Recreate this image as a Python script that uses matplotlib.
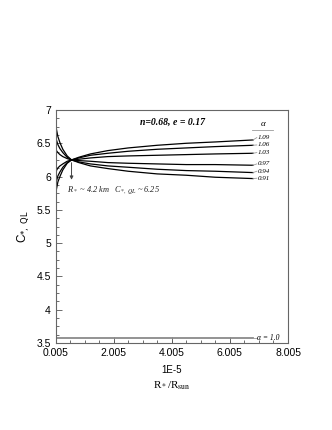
import matplotlib
matplotlib.use("Agg")
import matplotlib.pyplot as plt
from matplotlib.ticker import MultipleLocator, FixedLocator

# Data (x in units of 1E-5 R*/Rsun)
x = [0.005, 0.03, 0.08, 0.15, 0.25, 0.4, 0.55, 0.8, 1.2, 1.8, 2.5, 3.5, 4.5, 5.5, 6.8]
alphas = ["1.09", "1.06", "1.03", "0.97", "0.94", "0.91"]
c_109 = [5.70, 5.81, 5.92, 6.00, 6.10, 6.20, 6.25, 6.29, 6.34, 6.39, 6.43, 6.47, 6.50, 6.52, 6.55]
c_106 = [5.85, 5.93, 6.01, 6.07, 6.14, 6.21, 6.25, 6.28, 6.32, 6.35, 6.38, 6.41, 6.43, 6.45, 6.47]
c_103 = [6.05, 6.09, 6.13, 6.16, 6.19, 6.23, 6.25, 6.26, 6.28, 6.30, 6.31, 6.32, 6.33, 6.34, 6.35]
c_097 = [6.43, 6.39, 6.36, 6.33, 6.30, 6.27, 6.25, 6.24, 6.23, 6.21, 6.20, 6.19, 6.18, 6.18, 6.17]
c_094 = [6.63, 6.55, 6.48, 6.42, 6.36, 6.29, 6.25, 6.22, 6.19, 6.16, 6.14, 6.11, 6.09, 6.08, 6.06]
c_091 = [6.83, 6.71, 6.60, 6.51, 6.41, 6.31, 6.25, 6.21, 6.16, 6.12, 6.08, 6.04, 6.02, 5.99, 5.97]
series = [c_109, c_106, c_103, c_097, c_094, c_091]
label_y = [6.585, 6.475, 6.36, 6.19, 6.08, 5.975]

x_flat = [0.005, 6.8]
c_10 = [3.57, 3.57]

xticks = [0.005, 2.005, 4.005, 6.005, 8.005]
xticklabels = ["0.005", "2.005", "4.005", "6.005", "8.005"]
yticks = [3.5, 4, 4.5, 5, 5.5, 6, 6.5, 7]
yticklabels = ["3.5", "4", "4.5", "5", "5.5", "6", "6.5", "7"]

x_conv, y_conv = 0.55, 6.25

fig = plt.figure(figsize=(3.32, 4.30), dpi=100)
ax = fig.add_axes([0.1678, 0.2023, 0.6997, 0.5419])

for ys in series:
    ax.plot(x, ys, color="black", lw=0.9)
ax.plot(x_flat, c_10, color="#8a8a8a", lw=1.3)

serif = "Liberation Serif"
for a, ys, ly in zip(alphas, series, label_y):
    ax.plot([x[-1], 6.93], [ys[-1], ly], color="#9a9a9a", lw=0.6)
    ax.text(6.95, ly, a, fontsize=5, family=serif, style="italic", va="center", ha="left")
ax.text(7.15, 6.79, "\u03b1", fontsize=6.5, family=serif, style="italic", ha="center", va="center")
ax.plot([6.78, 7.49], [6.70, 6.70], color="#9a9a9a", lw=0.6)
ax.plot([6.8, 6.93], [3.57, 3.57], color="#9a9a9a", lw=0.6)
ax.text(6.95, 3.57, "\u03b1 = 1.0", fontsize=5.5, family=serif, style="italic", va="center", ha="left")

ax.text(4.02, 6.82, "n=0.68, e = 0.17", fontsize=7, family=serif, style="italic",
        weight="bold", ha="center", va="center")

ax.annotate("", xy=(x_conv, 5.91), xytext=(x_conv, y_conv),
            arrowprops=dict(arrowstyle="-|>", color="#444444", lw=0.7, mutation_scale=5))
ax.text(0.40, 5.79, r"R$_*$ ~ 4.2 km   C$_{*,\ QL}$ ~ 6.25", fontsize=6,
        family=serif, style="italic", ha="left", va="center", color="#222222",
        math_fontfamily="stix")

ax.set_xlim(0.005, 8.005)
ax.set_ylim(3.5, 7)
ax.xaxis.set_major_locator(FixedLocator(xticks))
ax.set_xticklabels(xticklabels)
ax.xaxis.set_minor_locator(MultipleLocator(0.5))
ax.yaxis.set_major_locator(FixedLocator(yticks))
ax.set_yticklabels(yticklabels)
ax.yaxis.set_minor_locator(MultipleLocator(0.125))
ax.tick_params(which="both", direction="in", colors="#555555", labelcolor="black",
               labelsize=7.5, top=False, right=False, width=0.6)
ax.tick_params(which="major", length=4)
ax.tick_params(which="minor", length=2)
for lab in ax.get_xticklabels() + ax.get_yticklabels():
    lab.set_family("Liberation Sans")
for s in ax.spines.values():
    s.set_color("#666666")
    s.set_linewidth(0.8)

ax.set_ylabel(r"C$_{*,\ \mathrm{QL}}$", fontsize=8.5, family="Liberation Sans", labelpad=4)
fig.text(0.518, 0.139, "1E-5", fontsize=7, family="Liberation Sans", ha="center", va="center")
fig.text(0.518, 0.104, r"R$_*$/R$_{\mathrm{sun}}$", fontsize=8, family=serif,
         ha="center", va="center", math_fontfamily="stix")

fig.savefig("out.png", dpi=100)
